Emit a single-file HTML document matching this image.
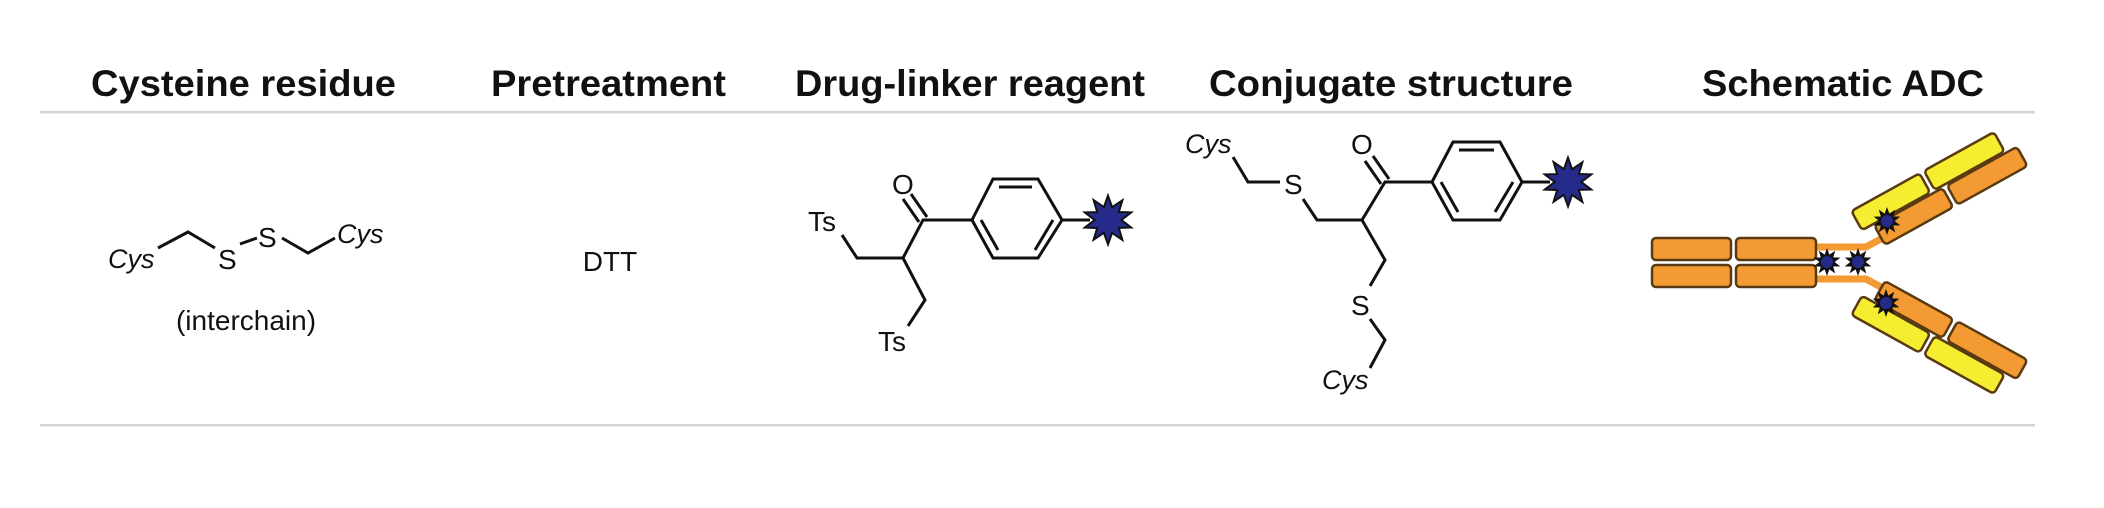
<!DOCTYPE html>
<html><head><meta charset="utf-8"><style>
html,body{margin:0;padding:0;background:#fff;}
svg{display:block;}
text{font-family:"Liberation Sans",Arial,sans-serif;fill:#111;}
.h{font-weight:bold;font-size:37px;}
.b{stroke:#111;stroke-width:3;fill:none;stroke-linejoin:miter;}
.l{font-size:28px;}
.i{font-size:27px;font-style:italic;}
.o{fill:#f39a32;stroke:#5a3a12;stroke-width:2.5;}
.y{fill:#f5ee30;stroke:#5a3a12;stroke-width:2.5;}
</style></head><body>
<svg width="2104" height="508" viewBox="0 0 2104 508" xmlns="http://www.w3.org/2000/svg">
<defs>
<polygon id="st" points="100,0 52,17 81,59 32,45 31,95 0,55 -31,95 -32,45 -81,59 -52,17 -100,0 -52,-17 -81,-59 -32,-45 -31,-95 0,-55 31,-95 32,-45 81,-59 52,-17"/>
</defs>
<text class="h" x="91" y="96" textLength="305" lengthAdjust="spacingAndGlyphs">Cysteine residue</text>
<text class="h" x="491" y="96" textLength="235" lengthAdjust="spacingAndGlyphs">Pretreatment</text>
<text class="h" x="795" y="96" textLength="350" lengthAdjust="spacingAndGlyphs">Drug-linker reagent</text>
<text class="h" x="1209" y="96" textLength="364" lengthAdjust="spacingAndGlyphs">Conjugate structure</text>
<text class="h" x="1702" y="96" textLength="282" lengthAdjust="spacingAndGlyphs">Schematic ADC</text>
<rect x="40" y="111" width="1995" height="2.5" fill="#d4d4d4"/>
<rect x="40" y="424" width="1995" height="2.5" fill="#d4d4d4"/>

<text class="i" x="108" y="268">Cys</text>
<polyline class="b" points="158,248 188,232 215,248"/>
<text class="l" x="218" y="269">S</text>
<line class="b" x1="240" y1="244" x2="257" y2="238"/>
<text class="l" x="258" y="247">S</text>
<polyline class="b" points="282,238 308,253 335,238"/>
<text class="i" x="337" y="243">Cys</text>
<text class="l" x="246" y="330" text-anchor="middle" font-size="29">(interchain)</text>

<text class="l" x="610" y="271" text-anchor="middle" font-size="29">DTT</text>

<g>
<text class="l" x="808" y="231" font-size="30">Ts</text>
<polyline class="b" points="842,235 857,258 903,258 923,220 972,220"/>
<line class="b" x1="919" y1="222" x2="903" y2="199"/>
<line class="b" x1="927" y1="217" x2="911" y2="194"/>
<text class="l" x="892" y="194" font-size="30">O</text>
<polygon class="b" points="972,220 993,179 1038,179 1062,220 1038,258 993,258"/>
<line class="b" x1="999" y1="187" x2="1032" y2="187"/>
<line class="b" x1="981" y1="220" x2="998" y2="250"/>
<line class="b" x1="1053" y1="220" x2="1035" y2="250"/>
<line class="b" x1="1062" y1="220" x2="1090" y2="220"/>
<use href="#st" transform="translate(1108,220) scale(0.245) rotate(18)" fill="#262a8a" stroke="#111" stroke-width="8"/>
<polyline class="b" points="903,258 925,300 908,326"/>
<text class="l" x="878" y="351" font-size="30">Ts</text>
</g>

<text class="i" x="1185" y="153">Cys</text>
<polyline class="b" points="1233,157 1248,182 1280,182"/>
<text class="l" x="1284" y="194">S</text>
<polyline class="b" points="1303,199 1317,220 1362,220 1385,182 1432,182"/>
<line class="b" x1="1381" y1="184" x2="1365" y2="161"/>
<line class="b" x1="1389" y1="179" x2="1373" y2="156"/>
<text class="l" x="1351" y="154" font-size="30">O</text>
<polygon class="b" points="1432,182 1453,142 1500,142 1522,182 1500,220 1453,220"/>
<line class="b" x1="1459" y1="150" x2="1494" y2="150"/>
<line class="b" x1="1441" y1="182" x2="1458" y2="212"/>
<line class="b" x1="1513" y1="182" x2="1495" y2="212"/>
<line class="b" x1="1522" y1="182" x2="1550" y2="182"/>
<use href="#st" transform="translate(1568,182) scale(0.245) rotate(18)" fill="#262a8a" stroke="#111" stroke-width="8"/>
<polyline class="b" points="1362,220 1385,260 1370,286"/>
<text class="l" x="1351" y="315">S</text>
<polyline class="b" points="1370,319 1385,340 1370,368"/>
<text class="i" x="1322" y="389">Cys</text>

<g>
<polyline points="1812,247 1866,247 1892,233" fill="none" stroke="#f39a32" stroke-width="7"/>
<polyline points="1812,279 1866,279 1892,293" fill="none" stroke="#f39a32" stroke-width="7"/>
<rect class="o" x="1652" y="238" width="79" height="22" rx="4"/>
<rect class="o" x="1736" y="238" width="80" height="22" rx="4"/>
<rect class="o" x="1652" y="265" width="79" height="22" rx="4"/>
<rect class="o" x="1736" y="265" width="80" height="22" rx="4"/>
<g transform="translate(1885,245) rotate(-29)">
<rect class="o" x="0" y="-22" width="78" height="22" rx="4"/>
<rect class="o" x="83" y="-22" width="80" height="22" rx="4"/>
<rect class="y" x="-13" y="-46" width="78" height="22" rx="4"/>
<rect class="y" x="70" y="-46" width="80" height="22" rx="4"/>
</g>
<g transform="translate(0,526) scale(1,-1)">
<g transform="translate(1885,245) rotate(-29)">
<rect class="o" x="0" y="-22" width="78" height="22" rx="4"/>
<rect class="o" x="83" y="-22" width="80" height="22" rx="4"/>
<rect class="y" x="-13" y="-46" width="78" height="22" rx="4"/>
<rect class="y" x="70" y="-46" width="80" height="22" rx="4"/>
</g>
</g>
<use href="#st" transform="translate(1827,262) scale(0.14) rotate(18)" fill="#111"/>
<circle cx="1827" cy="262" r="6" fill="#262a8a"/>
<use href="#st" transform="translate(1858,262) scale(0.14) rotate(18)" fill="#111"/>
<circle cx="1858" cy="262" r="6" fill="#262a8a"/>
<use href="#st" transform="translate(1887,221) scale(0.14) rotate(18)" fill="#111"/>
<circle cx="1887" cy="221" r="6" fill="#262a8a"/>
<use href="#st" transform="translate(1886,303) scale(0.14) rotate(18)" fill="#111"/>
<circle cx="1886" cy="303" r="6" fill="#262a8a"/>
</g>
</svg>
</body></html>
